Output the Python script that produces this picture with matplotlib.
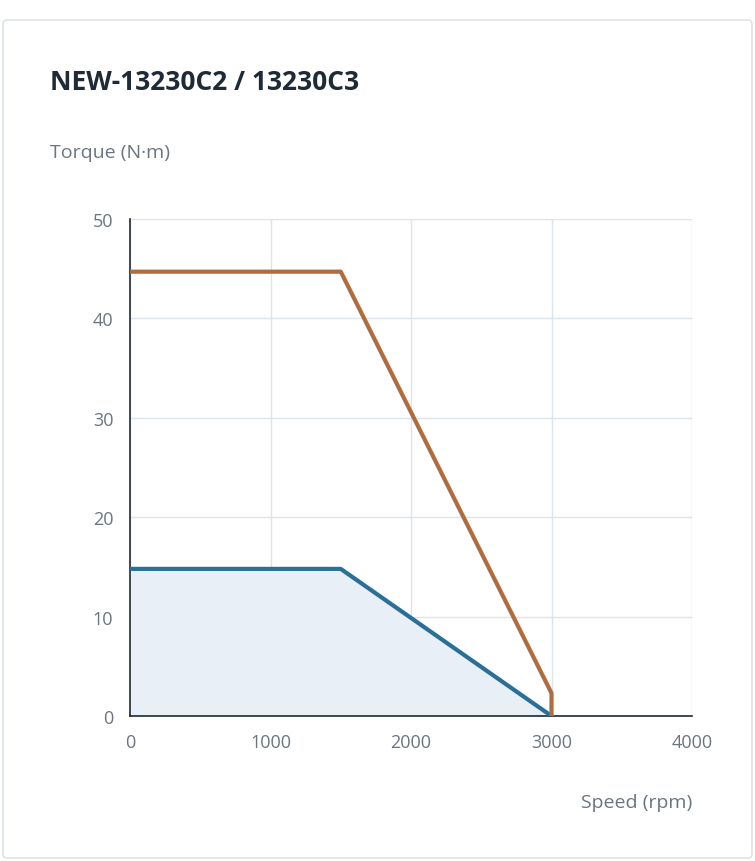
import matplotlib
matplotlib.use("Agg")
import matplotlib.pyplot as plt
from matplotlib.patches import FancyBboxPatch

plt.rcParams['font.family'] = ['Open Sans', 'DejaVu Sans']

speed_peak = [0, 1500, 3000, 3000]
torque_peak = [44.7, 44.7, 2.3, 0]
speed_rated = [0, 1500, 3000]
torque_rated = [14.8, 14.8, 0]
xticks = [0, 1000, 2000, 3000, 4000]
yticks = [0, 10, 20, 30, 40, 50]

fig = plt.figure(figsize=(7.55, 8.62), dpi=100)
bg = FancyBboxPatch((3/755, 3/862), 749/755, 838/862, boxstyle="round,pad=0,rounding_size=0.005",
                    transform=fig.transFigure, fc='white', ec='#dde3e8', lw=1.2, zorder=-10)
fig.patches.append(bg)
ax = fig.add_axes([130/755, 1-717/862, 562/755, 497/862], zorder=5)
ax.patch.set_alpha(0)
ax.fill_between(speed_rated, torque_rated, 0, color='#e9eff6', zorder=1)
ax.plot(speed_rated, torque_rated, color='#2a6f97', lw=3, zorder=3)
ax.plot(speed_peak, torque_peak, color='#b06c3e', lw=3, zorder=3)
ax.set_xlim(0, 4000)
ax.set_ylim(0, 50)
ax.set_xticks(xticks)
ax.set_yticks(yticks)
ax.grid(color='#dbe4ea', lw=1)
ax.set_axisbelow(True)
for s in ['top', 'right']:
    ax.spines[s].set_visible(False)
for s in ['left', 'bottom']:
    ax.spines[s].set_color('#1f2a36')
    ax.spines[s].set_linewidth(1.2)
ax.tick_params(length=0, labelsize=13, colors='#6b7580', pad=12)
fig.text(50/755, 1-82/862, 'NEW-13230C2 / 13230C3', fontsize=19, fontweight='bold', color='#1e2a38', va='center')
fig.text(50/755, 1-153/862, 'Torque (N·m)', fontsize=14, color='#6b7580', va='center')
fig.text(692/755, 1-803/862, 'Speed (rpm)', fontsize=14, color='#6b7580', va='center', ha='right')
fig.savefig('out.png', dpi=100)
